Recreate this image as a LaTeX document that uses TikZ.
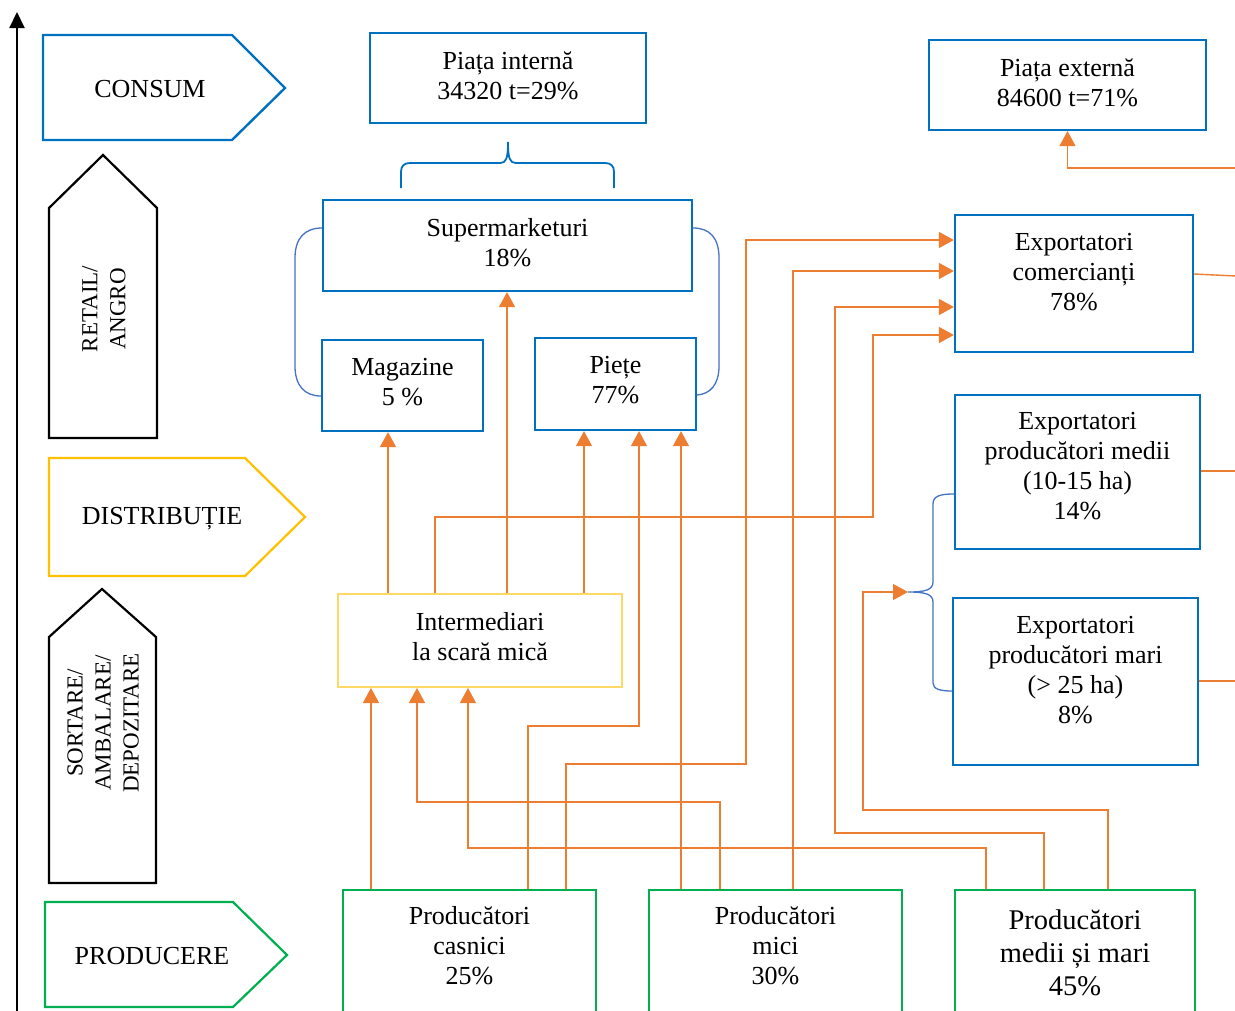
\documentclass[tikz,border=0pt]{standalone}
\usepackage{fontspec}
\setmainfont{Liberation Serif}
\usetikzlibrary{arrows.meta}
\definecolor{cBlue}{HTML}{0070C0}
\definecolor{cBrk}{HTML}{4472C4}
\definecolor{cOr}{HTML}{ED7D31}
\definecolor{cYel}{HTML}{FFC000}
\definecolor{cLYel}{HTML}{FFD966}
\definecolor{cGr}{HTML}{00B050}
\newcommand\fsA{\fontsize{26}{30}\selectfont}
\newcommand\fsB{\fontsize{28.5}{33}\selectfont}
\newcommand\fsR{\fontsize{23}{28}\selectfont}
\begin{document}
\begin{tikzpicture}[x=1pt,y=-1pt,
  bluebox/.style={draw=cBlue,line width=2.2pt,inner sep=0pt},
  greenbox/.style={draw=cGr,line width=1.8pt,inner sep=0pt},
  yelbox/.style={draw=cLYel,line width=2pt,inner sep=0pt},
  txt/.style={align=center,inner sep=0pt,font=\fsA},
  oline/.style={draw=cOr,line width=1.4pt},
  arr/.style={oline,-{Triangle[width=16pt,length=15pt]}},
  brk/.style={draw=cBrk,line width=1.3pt},
  tbrk/.style={draw=cBlue,line width=1.8pt}]
\useasboundingbox (0,0) rectangle (1235,1010);
\clip (0,0) rectangle (1235,1010);
% axis
\coordinate (ax0) at (17,1012);
\coordinate (ax1) at (17,12);
\draw[line width=2pt,-{Triangle[width=15pt,length=16pt]}] (ax0) -- (ax1);
% stage chevrons
\draw[cBlue,line width=2.4pt] (43,35) -- (232,35) -- (285,88) -- (232,140) -- (43,140) -- cycle;
\node[txt] (tCons) at (150,89) {CONSUM};
\draw[black,line width=2.2pt] (49,438) -- (49,208) -- (103,155) -- (157,208) -- (157,438) -- cycle;
\node[txt,font=\fsR,rotate=90] (tRet) at (104,309) {RETAIL/\\ANGRO};
\draw[cYel,line width=2.2pt] (49,458) -- (245,458) -- (305,517) -- (245,576) -- (49,576) -- cycle;
\node[txt] (tDist) at (162,519) {DISTRIBUȚIE};
\draw[black,line width=2.2pt] (49,883) -- (49,637) -- (102,589) -- (156,637) -- (156,883) -- cycle;
\node[txt,font=\fsR,rotate=90] (tSort) at (103,723) {SORTARE/\\AMBALARE/\\DEPOZITARE};
\draw[cGr,line width=2.2pt] (45,902) -- (233,902) -- (287,955) -- (233,1007) -- (45,1007) -- cycle;
\node[txt] (tProd) at (152,956) {PRODUCERE};
% boxes
\node[bluebox,minimum width=276pt,minimum height=90pt] (int) at (508,78) {};
\node[txt] (tInt) at (508,76) {Piața internă\\34320 t=29\%};
\node[bluebox,minimum width=277pt,minimum height=90pt] (ext) at (1067.5,85) {};
\node[txt] (tExt) at (1067.5,83) {Piața externă\\84600 t=71\%};
\node[bluebox,minimum width=369pt,minimum height=91pt] (sup) at (507.5,245.5) {};
\node[txt] (tSup) at (507.5,243) {Supermarketuri\\18\%};
\node[bluebox,minimum width=161pt,minimum height=91pt] (mag) at (402.5,385.5) {};
\node[txt] (tMag) at (402.5,382) {Magazine\\5 \%};
\node[bluebox,minimum width=161pt,minimum height=92pt] (pie) at (615.5,384) {};
\node[txt] (tPie) at (615.5,380) {Piețe\\77\%};
\node[bluebox,minimum width=238pt,minimum height=137pt] (com) at (1074,283.5) {};
\node[txt] (tCom) at (1074,272) {Exportatori\\comercianți\\78\%};
\node[bluebox,minimum width=245pt,minimum height=154pt] (med) at (1077.5,472) {};
\node[txt] (tMed) at (1077.5,466) {Exportatori\\producători medii\\(10-15 ha)\\14\%};
\node[bluebox,minimum width=245pt,minimum height=167pt] (mar) at (1075.5,681.5) {};
\node[txt] (tMar) at (1075.5,670) {Exportatori\\producători mari\\(> 25 ha)\\8\%};
\node[yelbox,minimum width=284pt,minimum height=93pt] (inter) at (480,640.5) {};
\node[txt] (tInter) at (480,637) {Intermediari\\la scară mică};
\node[greenbox,minimum width=253pt,minimum height=140pt] (cas) at (469.5,960) {};
\node[txt] (tCas) at (469.5,946) {Producători\\casnici\\25\%};
\node[greenbox,minimum width=253pt,minimum height=140pt] (mic) at (775.5,960) {};
\node[txt] (tMic) at (775.5,946) {Producători\\mici\\30\%};
\node[greenbox,minimum width=240pt,minimum height=140pt] (mm) at (1075,960) {};
\node[txt,font=\fsB] (tMm) at (1075,953) {Producători\\medii și mari\\45\%};
% braces
\draw[tbrk] (401,188) -- (401,172) .. controls (401,166) and (404,163) .. (410,163) -- (500,163)
  .. controls (506,163) and (508,159) .. (508,142) .. controls (508,159) and (510,163) .. (516,163)
  -- (605,163) .. controls (611,163) and (614,166) .. (614,172) -- (614,188);
\draw[brk] (sup.west |- 0,228) .. controls (305,228) and (295,238) .. (295,258) -- (295,366)
  .. controls (295,386) and (305,396) .. (mag.west |- 0,396);
\draw[brk] (sup.east |- 0,228) .. controls (710,228) and (719,238) .. (719,258) -- (719,366)
  .. controls (719,385) and (710,394) .. (pie.east |- 0,395);
\coordinate (cusp) at (908,592);
\draw[brk] (med.west |- 0,494) .. controls (940,494) and (933,496) .. (933,504) -- (933,582)
  .. controls (933,590) and (925,592) .. (cusp) .. controls (925,592) and (933,594) .. (933,602)
  -- (933,683) .. controls (933,689) and (940,691) .. (mar.west |- 0,691);
% orange connectors from Intermediari
\draw[arr] (inter.north -| 388,0) -- (mag.south -| 388,0);
\draw[arr] (inter.north -| 507,0) -- (sup.south -| 507,0);
\draw[arr] (inter.north -| 584,0) -- (pie.south -| 584,0);
\draw[arr] (inter.north -| 435,0) |- (873,517) |- (com.west |- 0,335);
% from Producatori casnici
\draw[arr] (cas.north -| 371,0) -- (inter.south -| 371,0);
\draw[arr] (cas.north -| 528,0) |- (639,726) -- (pie.south -| 639,0);
\draw[arr] (cas.north -| 566,0) |- (746,764) |- (com.west |- 0,240);
% from Producatori mici
\draw[arr] (mic.north -| 681,0) -- (pie.south -| 681,0);
\draw[arr] (mic.north -| 720,0) |- (417,802) -- (inter.south -| 417,0);
\draw[arr] (mic.north -| 793,0) |- (com.west |- 0,271);
% from Producatori medii si mari
\draw[arr] (mm.north -| 986,0) |- (468,848) -- (inter.south -| 468,0);
\draw[arr] (mm.north -| 1044,0) |- (835,833) |- (com.west |- 0,307);
\draw[arr] (mm.north -| 1108,0) |- (863,810) |- (cusp);
% right edge stubs
\coordinate (e1) at (1236,168);
\coordinate (e2) at (1236,276);
\coordinate (e3) at (1236,471);
\coordinate (e4) at (1236,681);
\draw[arr] (e1) -| (ext.south);
\draw[oline] (com.east |- 0,274) -- (e2);
\draw[oline] (med.east |- 0,471) -- (e3);
\draw[oline] (mar.east |- 0,681) -- (e4);
\end{tikzpicture}
\end{document}
